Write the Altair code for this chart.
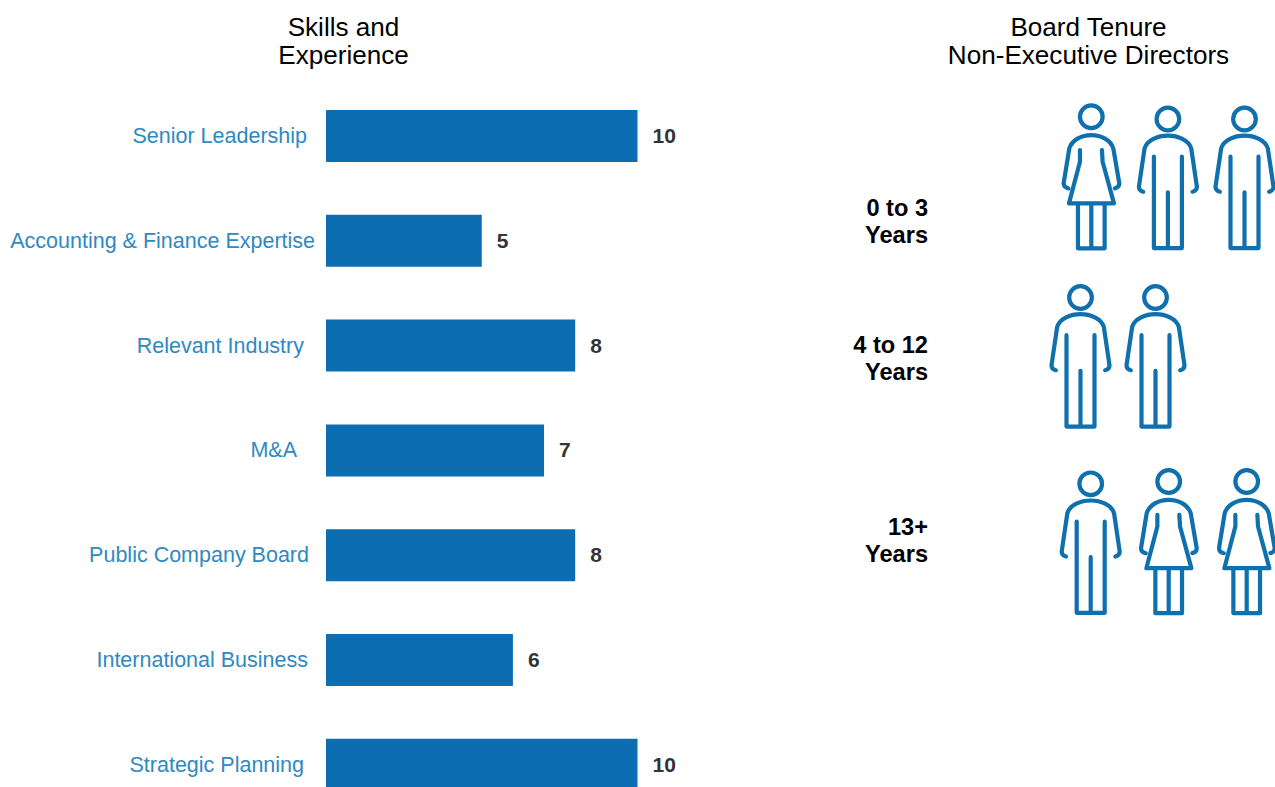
import altair as alt
import pandas as pd

skills = ["Senior Leadership", "Accounting & Finance Expertise", "Relevant Industry", "M&A",
          "Public Company Board", "International Business", "Strategic Planning"]
director_counts = [10, 5, 8, 7, 8, 6, 10]

tenure_labels = ["0 to 3\nYears", "4 to 12\nYears", "13+\nYears"]
tenure_figures = [["woman", "man", "man"], ["man", "man"], ["man", "woman", "woman"]]

# Layout of the free-standing pieces, in pixels
label_right_edge = [307, 315, 304, 297, 309, 308, 304]
tenure_text_y = [209, 346, 528]
figure_y = [176.7, 355.2, 541.5]
figure_x_span = [(1091.3, 1244.5), (1080.5, 1155.5), (1090.7, 1246.7)]

BAR_BLUE = "#0c6db0"
FIGURE_BLUE = "#0f70ae"
LABEL_BLUE = "#2f89c2"
VALUE_GREY = "#333333"
FONT = "Liberation Sans"

# Person outlines, drawn at three times their final size around the origin
MAN = (
    "M -34 -173 A 34 34 0 1 0 34 -173 A 34 34 0 1 0 -34 -173 "
    "M -74 45 C -82 43 -87 38 -87 30 L -70 -85 C -62 -110 -30 -123 0 -123 "
    "C 30 -123 62 -110 70 -85 L 87 30 C 87 38 82 43 74 45 "
    "M -42 -60 L -42 214 L 42 214 L 42 -60 M 0 47 L 0 214"
)
WOMAN = (
    "M -34 -180 A 34 34 0 1 0 34 -180 A 34 34 0 1 0 -34 -180 "
    "M -69 35 C -77 33 -83 28 -83 20 L -66 -85 C -58 -110 -30 -125 0 -125 "
    "C 30 -125 58 -110 66 -85 L 84 20 C 84 28 80 33 71 35 "
    "M -34 -80 L -34 -45 L -67 80 L 68 80 L 34 -45 L 32 -80 "
    "M -40 80 L -40 215 L 40 215 L 40 80 M 0 80 L 0 215 M -40 215 L 40 215"
)
FIGURE_SIZE = (2 / 3) ** 2

skill_df = pd.DataFrame({"skill": skills, "count": director_counts, "edge": label_right_edge})

band = alt.Scale(domain=skills, range=[83.6, 817.2], paddingInner=0.504, paddingOuter=0.252)
y_skill = alt.Y("skill:N", sort=skills, scale=band, axis=None)
x_count = alt.X("count:Q", scale=alt.Scale(domain=[0, 10], range=[326, 637.5]), axis=None)

bars = alt.Chart(skill_df).mark_bar(color=BAR_BLUE).encode(x=x_count, y=y_skill)

values = alt.Chart(skill_df).mark_text(
    align="left", baseline="middle", dx=15, dy=1, font=FONT, fontSize=21, fontWeight="bold", color=VALUE_GREY
).encode(x=x_count, y=y_skill, text="count:Q")

names = alt.Chart(skill_df).mark_text(
    align="right", baseline="middle", dy=1, font=FONT, fontSize=21.5, color=LABEL_BLUE
).encode(x=alt.X("edge:Q", scale=None, axis=None), y=y_skill, text="skill:N")


def heading(text, x):
    return alt.Chart(pd.DataFrame({"t": [text]})).mark_text(
        align="center", baseline="middle", lineBreak="\n", lineHeight=28,
        font=FONT, fontSize=26.1, color="#000000"
    ).encode(x=alt.value(x), y=alt.value(28), text="t:N")


layers = [bars, values, names,
          heading("Skills and\nExperience", 343.5),
          heading("Board Tenure\nNon-Executive Directors", 1088.5)]

for label, text_y, figures, base_y, span in zip(tenure_labels, tenure_text_y, tenure_figures,
                                                figure_y, figure_x_span):
    layers.append(
        alt.Chart(pd.DataFrame({"t": [label]})).mark_text(
            align="right", baseline="middle", lineBreak="\n", lineHeight=27,
            font=FONT, fontSize=23.6, fontWeight="bold", color="#000000"
        ).encode(x=alt.value(928), y=alt.value(text_y), text="t:N")
    )
    row = pd.DataFrame({"slot": range(len(figures)), "figure": figures})
    layers.append(
        alt.Chart(row).mark_point(
            filled=False, strokeWidth=4.2, opacity=1, strokeCap="round", strokeJoin="round", color=FIGURE_BLUE
        ).encode(
            x=alt.X("slot:Q", scale=alt.Scale(domain=[0, len(figures) - 1], range=list(span)), axis=None),
            y=alt.value(base_y),
            shape=alt.Shape("figure:N", scale=alt.Scale(domain=["man", "woman"], range=[MAN, WOMAN]), legend=None),
            size=alt.value(FIGURE_SIZE),
        )
    )

chart = alt.layer(*layers).resolve_scale(x="independent", y="independent").properties(
    width=1275, height=787, padding=0, autosize=alt.AutoSizeParams(type="none"), background="#ffffff"
).configure_view(stroke=None)

chart.save("out.html", embed_options={"renderer": "svg", "actions": False})
